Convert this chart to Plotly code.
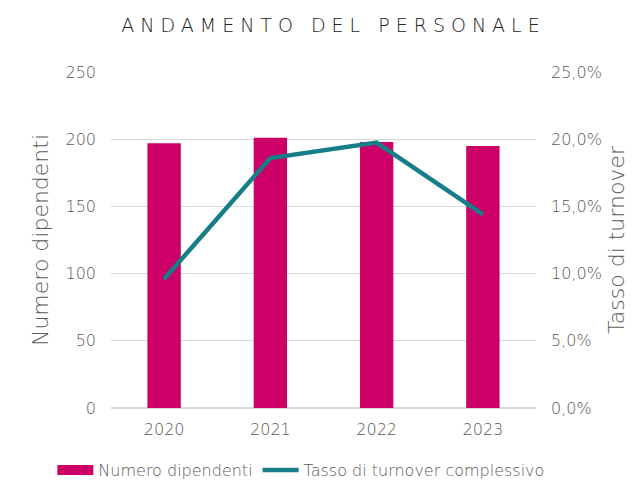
import plotly.graph_objects as go

years = ["2020", "2021", "2022", "2023"]
dipendenti = [197, 201, 198, 195]
turnover = [0.096, 0.186, 0.1975, 0.144]

FONT = "DejaVu Sans"
GRAY = "#595959"
MAGENTA = "#CC0066"
TEAL = "#177E89"
TF = dict(family=FONT, size=16, color=GRAY, weight=300)
AF = dict(family=FONT, size=22, color=GRAY, weight=300)

fig = go.Figure()
fig.add_trace(go.Bar(x=years, y=dipendenti, name="Numero dipendenti", showlegend=False,
                     marker=dict(color=MAGENTA, line=dict(width=0)), width=0.314))
# legend proxy (no plotted marks) so the legend key is a wide rectangle like the reference
fig.add_trace(go.Scatter(x=years, y=[None] * len(years), name="Numero dipendenti",
                         mode="lines", line=dict(color=MAGENTA, width=10), hoverinfo="skip"))
fig.add_trace(go.Scatter(x=years, y=turnover, name="Tasso di turnover complessivo",
                         mode="lines", line=dict(color=TEAL, width=4.5), yaxis="y2"))

fig.update_layout(
    width=625, height=475,
    margin=dict(l=103, r=97, t=64, b=75, autoexpand=False),
    paper_bgcolor="white", plot_bgcolor="white",
    font=dict(family=FONT, color=GRAY, size=16),
    title=dict(text='<span style="letter-spacing:6px">ANDAMENTO DEL PERSONALE</span>',
               x=0.5235, xanchor="center", xref="paper", y=0.964, yanchor="middle",
               font=dict(family=FONT, size=19, color="#222222", weight=300)),
    xaxis=dict(showgrid=False, showline=False, ticks="", tickfont=TF, ticklabelstandoff=10),
    yaxis=dict(range=[0, 250], dtick=50, showgrid=True, gridcolor="#D9D9D9", gridwidth=1,
               zeroline=True, zerolinecolor="#D9D9D9", ticks="", tickfont=TF,
               ticklabelstandoff=14, automargin=False,
               title=dict(text="Numero dipendenti", font=AF, standoff=10)),
    yaxis2=dict(range=[0, 0.25], dtick=0.05, overlaying="y", side="right", showgrid=False,
                zeroline=False, tickformat=".1%", tickfont=TF, ticklabelstandoff=14, automargin=False,
                title=dict(text="Tasso di turnover", font=AF, standoff=7)),
    separators=",.",
    legend=dict(orientation="h", x=-0.138, xanchor="left", xref="paper",
                y=-0.1845, yanchor="middle", yref="paper",
                font=TF, traceorder="normal", itemwidth=36),
    bargap=0.686,
)
fig.write_html("out.html")
